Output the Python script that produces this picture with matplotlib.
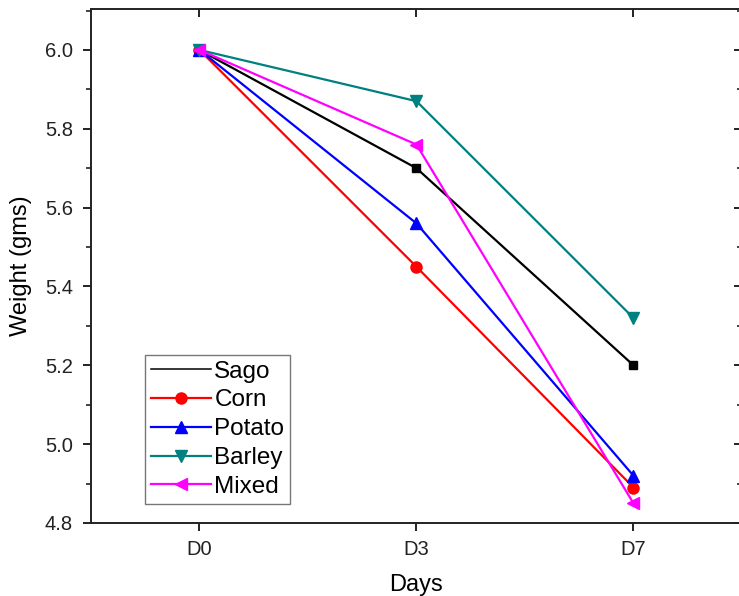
import matplotlib
matplotlib.use("Agg")
import matplotlib.pyplot as plt
from matplotlib.lines import Line2D
from matplotlib.ticker import MultipleLocator

plt.rcParams['font.family'] = ['Liberation Sans', 'DejaVu Sans']

days = ["D0", "D3", "D7"]
sago = [6.00, 5.70, 5.20]
corn = [6.00, 5.45, 4.89]
potato = [6.00, 5.56, 4.92]
barley = [6.00, 5.87, 5.32]
mixed = [6.00, 5.76, 4.85]

fig = plt.figure(figsize=(7.39, 5.96), dpi=100)
ax = fig.add_axes([0.1231, 0.1225, 0.8809, 0.8625])

x = list(range(len(days)))
series = [
    ("Sago", sago, "black", "s", 6),
    ("Corn", corn, "#ff0000", "o", 8),
    ("Potato", potato, "#0000ff", "^", 8.5),
    ("Barley", barley, "#008080", "v", 8.5),
    ("Mixed", mixed, "#ff00ff", "<", 8.5),
]
for name, vals, col, mk, ms in series:
    ax.plot(x, vals, color=col, marker=mk, markersize=ms, linewidth=1.6, label=name)

ax.set_xlim(-0.5, 2.5)
ax.set_ylim(4.8, 6.104)
ax.set_xticks(x)
ax.set_xticklabels(days)
ax.yaxis.set_major_locator(MultipleLocator(0.2))
ax.yaxis.set_minor_locator(MultipleLocator(0.1))
ax.yaxis.set_major_formatter(matplotlib.ticker.FormatStrFormatter('%.1f'))

for s in ax.spines.values():
    s.set_linewidth(1.4)
    s.set_color('#222222')

ax.tick_params(axis='y', which='major', direction='out', length=6, width=1.4,
               labelsize=14.5, right=True, pad=7)
ax.tick_params(axis='y', which='minor', direction='out', length=3.5, width=1.2, right=True)
ax.tick_params(axis='x', which='major', direction='out', length=6, width=1.4,
               labelsize=14.5, top=True, pad=6)
ax.tick_params(axis='both', which='both', colors='#222222', labelcolor='#222222')
# inward ticks on the top and right edges
for tl in ax.yaxis.get_majorticklines()[1::2] + ax.yaxis.get_minorticklines()[1::2]:
    tl.set_marker(matplotlib.markers.TICKLEFT)
for tl in ax.xaxis.get_majorticklines()[1::2]:
    tl.set_marker(matplotlib.markers.TICKDOWN)

ax.set_xlabel("Days", fontsize=17, labelpad=11)
ax.set_ylabel("Weight (gms)", fontsize=17, labelpad=9)

handles = [Line2D([], [], color="black", linewidth=1.1)]
for name, vals, col, mk, ms in series[1:]:
    handles.append(Line2D([], [], color=col, marker=mk, markersize=ms, linewidth=1.6))
labels = [s[0] for s in series]
leg = ax.legend(handles, labels, loc='lower left', bbox_to_anchor=(0.083, 0.037),
                borderaxespad=0, fontsize=17.5, frameon=True, fancybox=False,
                edgecolor='#555555', handlelength=2.45, handletextpad=0.15,
                labelspacing=0.28, borderpad=0.25)
leg.get_frame().set_linewidth(1.0)

fig.savefig("out.png", dpi=100)
